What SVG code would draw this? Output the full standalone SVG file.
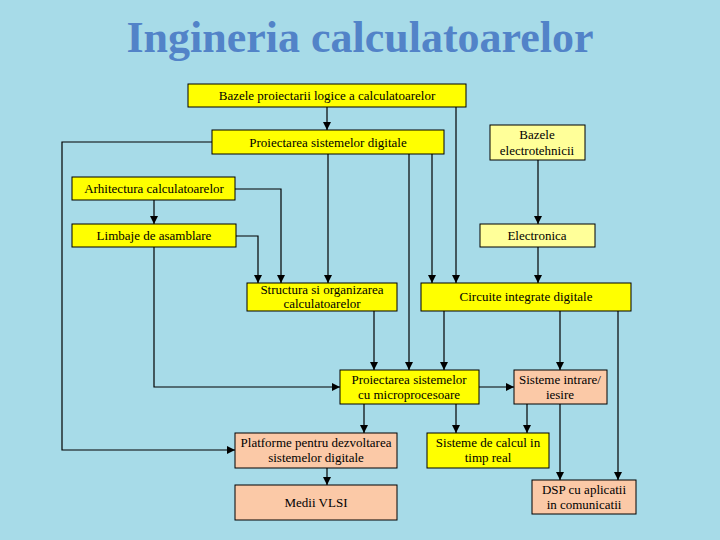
<svg xmlns="http://www.w3.org/2000/svg" width="720" height="540" viewBox="0 0 720 540">
<defs>
<marker id="ah" viewBox="0 0 10 10" refX="10" refY="5" markerWidth="8" markerHeight="8" markerUnits="userSpaceOnUse" orient="auto">
<path d="M0,0 L10,5 L0,10 Z" fill="#000"/>
</marker>
<style>
.box{stroke:#000;stroke-width:1}
.y{fill:#ffff00}
.ly{fill:#ffff99}
.p{fill:#fbc9a7}
.t{font-family:"Liberation Serif","Times New Roman",serif;font-size:13px;fill:#000;text-anchor:middle}
.c{fill:none;stroke:#000;stroke-width:1.2;marker-end:url(#ah)}
</style>
</defs>
<rect width="720" height="540" fill="#a7dbe8"/>
<text x="360" y="52" font-family="'Liberation Serif','Times New Roman',serif" font-size="44" font-weight="bold" fill="#5283c8" text-anchor="middle">Ingineria calculatoarelor</text>

<g id="connectors">
<path class="c" d="M327,107 V130"/>
<path class="c" d="M456,107 V283"/>
<path class="c" d="M328,154 V283"/>
<path class="c" d="M409,154 V370"/>
<path class="c" d="M432,154 V283"/>
<path class="c" d="M212,142 H62 V450 H235"/>
<path class="c" d="M235,189 H281 V283"/>
<path class="c" d="M236,236 H258 V283"/>
<path class="c" d="M154,200 V224"/>
<path class="c" d="M154,247 V387 H340"/>
<path class="c" d="M538,160 V224"/>
<path class="c" d="M538,247 V283"/>
<path class="c" d="M374,311 V370"/>
<path class="c" d="M444,311 V370"/>
<path class="c" d="M560,311 V370"/>
<path class="c" d="M618,311 V480"/>
<path class="c" d="M479,387 H514"/>
<path class="c" d="M364,404 V433"/>
<path class="c" d="M456,404 V433"/>
<path class="c" d="M527,404 V433"/>
<path class="c" d="M560,404 V480"/>
<path class="c" d="M327,468 V485"/>
</g>

<g id="n1"><rect class="box y" x="188" y="84" width="278" height="23"/><text class="t" x="327" y="100">Bazele proiectarii logice a calculatoarelor</text></g>
<g id="n2"><rect class="box y" x="212" y="130" width="232" height="24"/><text class="t" x="328" y="147">Proiectarea sistemelor digitale</text></g>
<g id="n3"><rect class="box ly" x="490" y="125" width="95" height="35"/><text class="t" x="537" y="139">Bazele</text><text class="t" x="537" y="155">electrotehnicii</text></g>
<g id="n4"><rect class="box y" x="72" y="177" width="163" height="23"/><text class="t" x="154" y="193">Arhitectura calculatoarelor</text></g>
<g id="n5"><rect class="box y" x="72" y="224" width="164" height="23"/><text class="t" x="154" y="240">Limbaje de asamblare</text></g>
<g id="n6"><rect class="box ly" x="480" y="224" width="115" height="23"/><text class="t" x="537" y="240">Electronica</text></g>
<g id="n7"><rect class="box y" x="247" y="283" width="150" height="28"/><text class="t" x="322" y="294">Structura si organizarea</text><text class="t" x="322" y="308">calculatoarelor</text></g>
<g id="n8"><rect class="box y" x="421" y="283" width="210" height="28"/><text class="t" x="526" y="301">Circuite integrate digitale</text></g>
<g id="n9"><rect class="box y" x="340" y="370" width="139" height="34"/><text class="t" x="409" y="384">Proiectarea sistemelor</text><text class="t" x="409" y="399">cu microprocesoare</text></g>
<g id="n10"><rect class="box p" x="514" y="370" width="93" height="34"/><text class="t" x="560" y="384">Sisteme intrare/</text><text class="t" x="560" y="399">iesire</text></g>
<g id="n11"><rect class="box p" x="235" y="433" width="162" height="35"/><text class="t" x="316" y="447">Platforme pentru dezvoltarea</text><text class="t" x="316" y="462">sistemelor digitale</text></g>
<g id="n12"><rect class="box y" x="427" y="433" width="122" height="35"/><text class="t" x="488" y="447">Sisteme  de calcul in</text><text class="t" x="488" y="462">timp real</text></g>
<g id="n13"><rect class="box p" x="235" y="485" width="162" height="35"/><text class="t" x="316" y="507">Medii VLSI</text></g>
<g id="n14"><rect class="box p" x="532" y="480" width="104" height="34"/><text class="t" x="584" y="494">DSP cu aplicatii</text><text class="t" x="584" y="509">in comunicatii</text></g>
</svg>
